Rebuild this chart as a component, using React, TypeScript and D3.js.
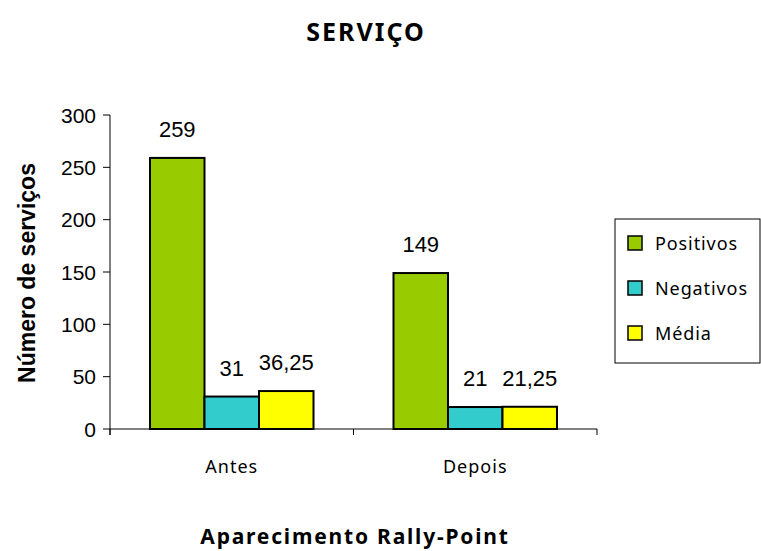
import React from 'react';
import * as d3 from 'd3';

const categories = ['Antes', 'Depois'];
const series = ['Positivos', 'Negativos', 'Média'];
const colors = ['#99CC00', '#33CCCC', '#FFFF00'];
const positivos = [259, 149];
const negativos = [31, 21];
const media = [36.25, 21.25];
const yTicks = [0, 50, 100, 150, 200, 250, 300];

const W = 761;
const H = 551;
const plot = { left: 110, right: 597, top: 115, bottom: 429 };
const gothic = '"Century Gothic", "Noto Sans", sans-serif';
const arial = 'Arial, "Liberation Sans", sans-serif';

const fmt = (v: number) => String(v).replace('.', ',');

export default function App() {
  const values = [positivos, negativos, media];

  const x0 = d3.scaleBand<string>().domain(categories).range([plot.left, plot.right]);
  const x1 = d3
    .scaleBand<string>()
    .domain(series)
    .range([40, x0.bandwidth() - 40]);
  const y = d3.scaleLinear().domain([0, 300]).range([plot.bottom, plot.top]);

  const xTicks = [plot.left, ...categories.map((c) => (x0(c) as number) + x0.bandwidth())];

  return (
    <svg width={W} height={H} style={{ position: 'absolute', left: 0, top: 0, background: '#fff' }}>
      <text
        x={366}
        y={41}
        textAnchor="middle"
        fontFamily={gothic}
        fontWeight="bold"
        fontSize={25}
        letterSpacing={2}
      >
        SERVIÇO
      </text>

      {/* bars */}
      {categories.map((c, ci) => (
        <g key={c} transform={`translate(${x0(c)},0)`}>
          {series.map((s, si) => {
            const v = values[si][ci];
            const bx = x1(s) as number;
            return (
              <g key={s}>
                <rect
                  x={bx}
                  y={y(v)}
                  width={x1.bandwidth()}
                  height={y(0) - y(v)}
                  fill={colors[si]}
                  stroke="#000"
                  strokeWidth={2}
                />
                <text
                  x={bx + x1.bandwidth() / 2}
                  y={y(v) - 21}
                  textAnchor="middle"
                  fontFamily={arial}
                  fontSize={22}
                >
                  {fmt(v)}
                </text>
              </g>
            );
          })}
        </g>
      ))}

      {/* y axis */}
      <line x1={plot.left} x2={plot.left} y1={plot.top} y2={plot.bottom + 6} stroke="#000" />
      {yTicks.map((t) => (
        <g key={t}>
          <line x1={plot.left - 7} x2={plot.left} y1={y(t)} y2={y(t)} stroke="#000" />
          <text x={plot.left - 14} y={y(t) + 7.5} textAnchor="end" fontFamily={arial} fontSize={21}>
            {t}
          </text>
        </g>
      ))}

      {/* x axis */}
      <line x1={plot.left} x2={plot.right} y1={plot.bottom} y2={plot.bottom} stroke="#000" />
      {xTicks.map((t, i) => (
        <line key={i} x1={t} x2={t} y1={plot.bottom} y2={plot.bottom + 6} stroke="#000" />
      ))}
      {categories.map((c) => (
        <text
          key={c}
          x={(x0(c) as number) + x0.bandwidth() / 2}
          y={473}
          textAnchor="middle"
          fontFamily={gothic}
          fontSize={18}
          letterSpacing={1}
        >
          {c}
        </text>
      ))}

      <text
        transform={`translate(35,${(plot.top + plot.bottom) / 2 + 1}) rotate(-90)`}
        textAnchor="middle"
        fontFamily={arial}
        fontWeight="bold"
        fontSize={23}
      >
        Número de serviços
      </text>
      <text
        x={355}
        y={544}
        textAnchor="middle"
        fontFamily={gothic}
        fontWeight="bold"
        fontSize={21}
        letterSpacing={1.8}
      >
        Aparecimento Rally-Point
      </text>

      {/* legend */}
      <rect x={615} y={219} width={145} height={144} fill="#fff" stroke="#000" strokeWidth={1} />
      {series.map((s, i) => (
        <g key={s} transform={`translate(628,${243 + i * 45})`}>
          <rect x={0} y={-7} width={14} height={14} fill={colors[i]} stroke="#000" strokeWidth={1.5} />
          <text x={27} y={7} fontFamily={gothic} fontSize={18} letterSpacing={0.9}>
            {s}
          </text>
        </g>
      ))}
    </svg>
  );
}
